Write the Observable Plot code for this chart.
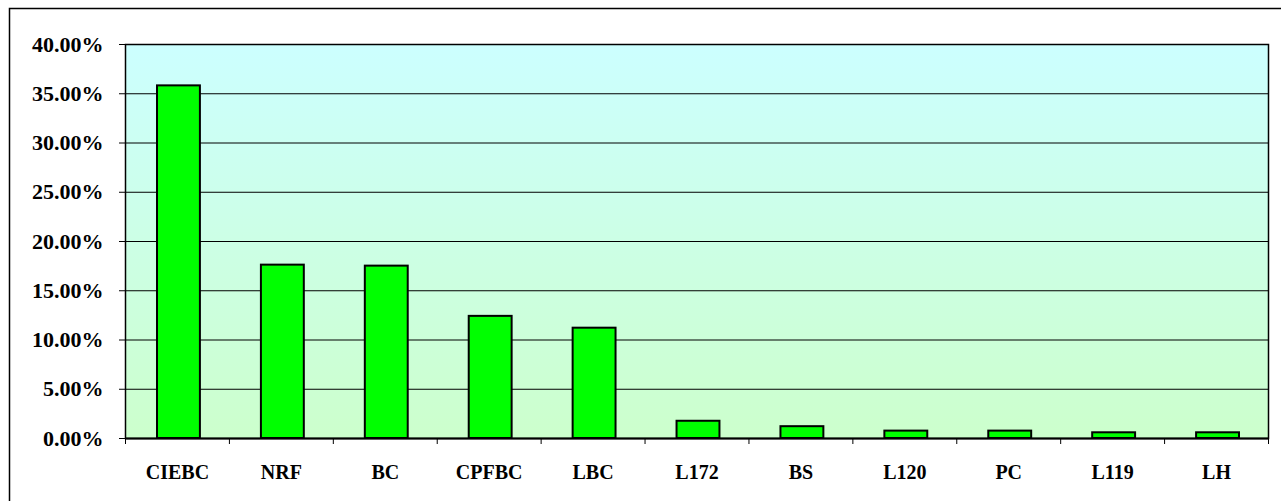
<!DOCTYPE html>
<html>
<head>
<meta charset="utf-8">
<script src="https://cdn.jsdelivr.net/npm/d3@7"></script>
<script src="https://cdn.jsdelivr.net/npm/@observablehq/plot@0.6"></script>
<style>
  html, body { margin: 0; padding: 0; background: white; }
  #chart svg { display: block; overflow: hidden; }
</style>
</head>
<body>
<div id="chart"></div>
<script>
const categories = ["CIEBC", "NRF", "BC", "CPFBC", "LBC", "L172", "BS", "L120", "PC", "L119", "LH"];
const values = [0.358, 0.176, 0.175, 0.124, 0.112, 0.0175, 0.012, 0.0075, 0.0075, 0.0058, 0.0058];
const yTicks = [0, 0.05, 0.10, 0.15, 0.20, 0.25, 0.30, 0.35, 0.40];

const data = categories.map((c, i) => ({category: c, index: i, value: values[i]}));
const boundaryTicks = d3.range(0, categories.length + 1);
const labelTicks = categories.map((c, i) => i + 0.5);

const svg = Plot.plot({
  width: 1281,
  height: 501,
  marginLeft: 125,
  marginRight: 13,
  marginTop: 44,
  marginBottom: 63,
  style: {fontFamily: "'Liberation Serif', 'Times New Roman', serif", fontSize: "20px", fontWeight: "bold", color: "black", background: "white"},
  x: {type: "linear", domain: [0, categories.length], label: null},
  y: {domain: [0, 0.4], label: null},
  marks: [
    Plot.frame({fill: "url(#plotbg)", stroke: "black", strokeWidth: 1.5}),
    Plot.gridY(yTicks, {stroke: "black", strokeOpacity: 1, strokeWidth: 1}),
    Plot.axisY(yTicks, {tickFormat: d3.format(".2%"), tickSize: 6, tickPadding: 16, stroke: "black", fontSize: 22, label: null}),
    Plot.axisX(boundaryTicks, {tickSize: 6, tickFormat: () => "", stroke: "black", label: null}),
    Plot.axisX(labelTicks, {tickSize: 0, tickPadding: 26, tickFormat: d => categories[Math.floor(d)], label: null}),
    Plot.rectY(data, {x1: "index", x2: d => d.index + 1, y: "value", insetLeft: 32, insetRight: 29, fill: "#00ff00", stroke: "black", strokeWidth: 2}),
    Plot.ruleY([0], {stroke: "black", strokeWidth: 2})
  ]
});

const s = d3.select(svg);
s.insert("defs", ":first-child").html(
  '<linearGradient id="plotbg" x1="0" y1="0" x2="0" y2="1">' +
  '<stop offset="0" stop-color="#ccffff"/>' +
  '<stop offset="1" stop-color="#ccffcc"/>' +
  '</linearGradient>'
);
s.append("rect")
  .attr("x", 9.5).attr("y", 8.5)
  .attr("width", 1300).attr("height", 600)
  .attr("fill", "none").attr("stroke", "black").attr("stroke-width", 1.5);

document.getElementById("chart").appendChild(svg);
</script>
</body>
</html>
